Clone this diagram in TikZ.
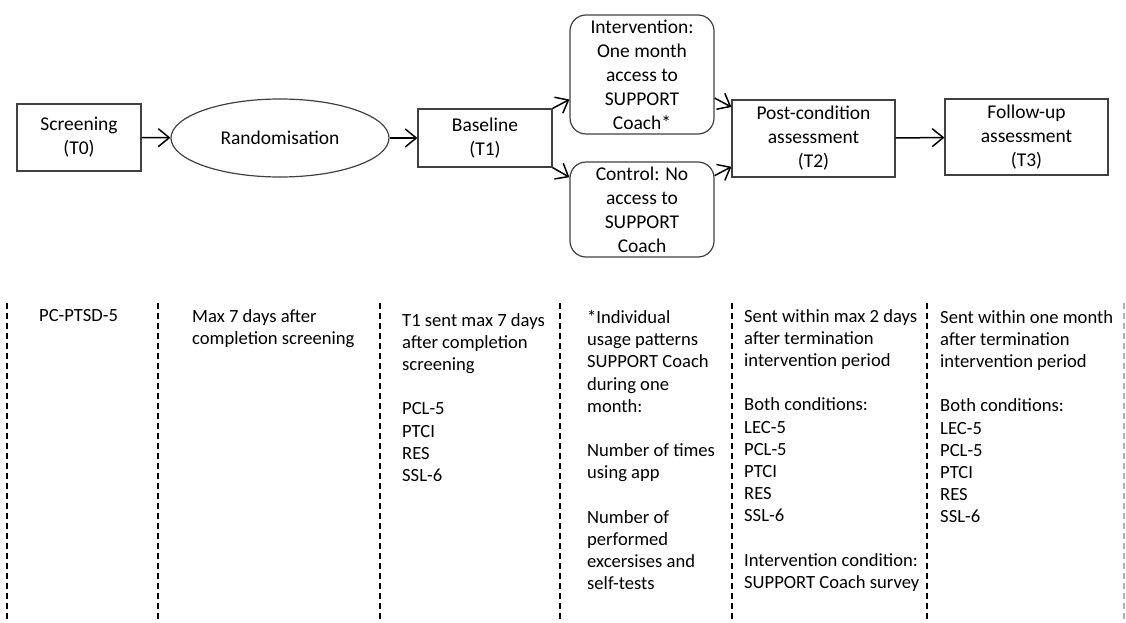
\documentclass[tikz,border=0pt]{standalone}
\usepackage{fontspec}
\setmainfont{Carlito}
\usetikzlibrary{shapes.geometric,arrows.meta}
\begin{document}
\begin{tikzpicture}[x=1pt,y=-1pt,
  every node/.style={font=\fontsize{19.5}{24}\selectfont,text=black},
  box/.style={draw=black!75,line width=1.2pt,align=center,inner sep=0pt},
  roundbox/.style={box,rounded corners=16pt},
  oval/.style={box,ellipse},
  note/.style={anchor=north west,align=left,inner sep=0pt,font=\fontsize{18.6}{22.2}\selectfont},
  flow/.style={line width=1.5pt,-{Straight Barb[length=11pt,width=18pt]}},
  sep/.style={line width=1.3pt,dash pattern=on 6pt off 4pt}]
\useasboundingbox(0,0)rectangle(1126,623);
                \node[box,minimum width=124pt,minimum height=67pt](1)at(79,137.5){Screening\\(T0)};
                \node[oval,minimum width=218pt,minimum height=78pt](2)at(280,138){Randomisation};
                \node[box,minimum width=134pt,minimum height=58pt](3)at(485,138){Baseline\\(T1)};
                \node[roundbox,minimum width=144pt,minimum height=119pt](4)at(642,74.5){Intervention:\\One month\\access to\\SUPPORT\\Coach*};
                \node[roundbox,minimum width=144pt,minimum height=95pt](5)at(642,209.5){Control: No\\access to\\SUPPORT\\Coach};
                \node[box,minimum width=163pt,minimum height=77pt](6)at(813.5,138.5){Post-condition\\assessment\\(T2)};
                \node[box,minimum width=163pt,minimum height=76pt](7)at(1026.5,137){Follow-up\\assessment\\(T3)};
                \draw[flow](1)--(2);
                \draw[flow](2)--(3);
                \draw[flow](3.north east)--(4.199);
                \draw[flow](3.south east)--(5.156);
                \draw[flow](4.342)--(6.159);
                \draw[flow](5.25)--(6.199);
                \draw[flow](6)--(7);
                % time line columns
                \foreach \x in {7,158,380,560,732,927}
                  \draw[sep](\x,303)--(\x,623);
                \draw[sep,black!30](1124,303)--(1124,623);
                \node[note](8)at(39,309){PC-PTSD-5};
                \node[note](9)at(192,309){Max 7 days after\\completion screening};
                \node[note](10)at(402,313){T1 sent max 7 days\\after completion\\screening\\[22.2pt]PCL-5\\PTCI\\RES\\SSL-6};
                \node[note](11)at(587,310){*Individual\\usage patterns\\SUPPORT Coach\\during one\\month:\\[22.2pt]Number of times\\using app\\[22.2pt]Number of\\performed\\excersises and\\self-tests};
                \node[note](12)at(744,309){Sent within max 2 days\\after termination\\intervention period\\[22.2pt]Both conditions:\\LEC-5\\PCL-5\\PTCI\\RES\\SSL-6\\[22.2pt]Intervention condition:\\SUPPORT Coach survey};
                \node[note](13)at(940,310){Sent within one month\\after termination\\intervention period\\[22.2pt]Both conditions:\\LEC-5\\PCL-5\\PTCI\\RES\\SSL-6};
\end{tikzpicture}
\end{document}
